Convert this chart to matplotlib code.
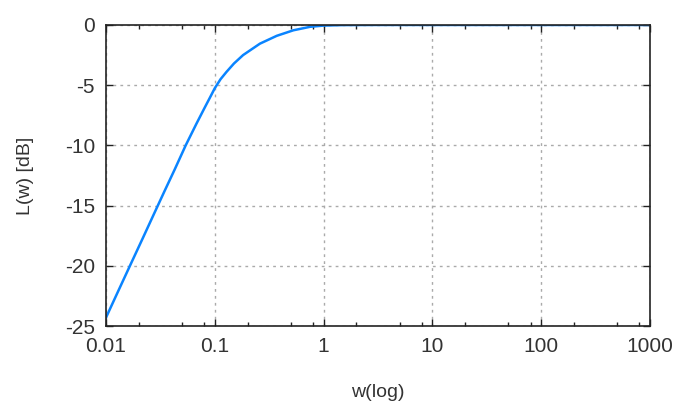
import matplotlib
matplotlib.use("Agg")
import matplotlib.pyplot as plt
from matplotlib.ticker import FixedLocator, FixedFormatter, NullFormatter

plt.rcParams['font.family'] = ['Liberation Sans', 'DejaVu Sans']

w = [0.01, 0.0128, 0.0164, 0.0218, 0.0279, 0.0345, 0.0428, 0.054, 0.0678,
     0.0809, 0.09, 0.1, 0.113, 0.128, 0.15, 0.182, 0.26, 0.371, 0.528, 0.753,
     1.0, 1.5, 3, 10, 100, 1000]
L = [-24.3, -22.2, -20.1, -17.7, -15.6, -13.8, -12.0, -10.0, -8.2,
     -6.85, -6.05, -5.25, -4.5, -3.9, -3.2, -2.5, -1.55, -0.9, -0.44, -0.15,
     -0.05, -0.01, 0.0, 0.0, 0.0, 0.0]

xticks = [0.01, 0.1, 1, 10, 100, 1000]
xticklabels = ["0.01", "0.1", "1", "10", "100", "1000"]
yticks = [0, -5, -10, -15, -20, -25]
yticklabels = ["0", "-5", "-10", "-15", "-20", "-25"]

fig = plt.figure(figsize=(6.76, 4.01), dpi=100)
ax = fig.add_axes([0.1568, 0.187, 0.8047, 0.7507])
ax.plot(w, L, color="#0A84FF", lw=1.8, solid_joinstyle="round")
ax.set_xscale("log")
ax.set_xlim(0.01, 1000)
ax.set_ylim(-25, 0)

ax.xaxis.set_major_locator(FixedLocator(xticks))
ax.xaxis.set_major_formatter(FixedFormatter(xticklabels))
minors = []
for d in [0.01, 0.1, 1, 10, 100]:
    for m in [2, 5, 8]:
        minors.append(d * m)
ax.xaxis.set_minor_locator(FixedLocator(minors))
ax.xaxis.set_minor_formatter(NullFormatter())
ax.yaxis.set_major_locator(FixedLocator(yticks))
ax.yaxis.set_major_formatter(FixedFormatter(yticklabels))

ax.grid(True, which="major", color="#AAAAAA", linestyle=(0, (2, 3)), lw=1.0)
ax.tick_params(which="both", direction="in", top=True, right=True,
               labelsize=15, labelcolor="#333333", color="#222222")
ax.tick_params(which="major", length=5, width=1, pad=8)
ax.tick_params(which="minor", length=3, width=1)
for s in ax.spines.values():
    s.set_color("#222222")
    s.set_linewidth(1.2)

ax.set_xlabel("w(log)", fontsize=14, color="#333333", labelpad=20)
ax.set_ylabel("L(w) [dB]", fontsize=14, color="#333333", labelpad=22)

fig.savefig("out.png", dpi=100)
